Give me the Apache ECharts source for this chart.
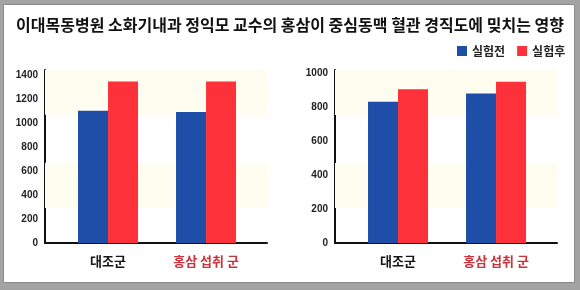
<!DOCTYPE html>
<html><head><meta charset="utf-8">
<script src="https://cdn.jsdelivr.net/npm/echarts@6/dist/echarts.min.js"></script>
<style>html,body{margin:0;padding:0;background:#a3a3a3}#c{width:580px;height:290px}</style>
</head><body><div id="c"></div>
<script>
const titleText = '이대목동병원 소화기내과 정익모 교수의 홍삼이 중심동맥 혈관 경직도에 밎치는 영향';
const categories = ['대조군', '홍삼 섭취 군'];
const seriesNames = ['실험전', '실험후'];
const leftBefore = [1100, 1090];
const leftAfter = [1345, 1345];
const rightBefore = [833, 882];
const rightAfter = [906, 950];
const leftTicks = [0, 200, 400, 600, 800, 1000, 1200, 1400];
const rightTicks = [0, 200, 400, 600, 800, 1000];
const leftBands = [[1067, 1440], [292, 667]];
const rightBands = [[754, 1020], [206, 471]];

const BLUE = '#1f4ea8', RED = '#fd3139';
const FONT = '"Noto Sans CJK KR", sans-serif';
const catIdx = categories.map((c, i) => i);

function xAxis(gi) {
  return {
    gridIndex: gi, type: 'value', min: -0.643, max: 1.622,
    axisLine: { show: true, onZero: false, lineStyle: { color: '#111', width: 2 } },
    axisTick: { show: false }, splitLine: { show: false },
    axisLabel: {
      customValues: catIdx, margin: 12,
      formatter: v => { const i = Math.round(v); return (Math.abs(v - i) < 1e-6 && categories[i] !== undefined) ? '{c' + i + '|' + categories[i] + '}' : ''; },
      rich: {
        c0: { color: '#151515', fontSize: 13, fontWeight: 'bold', fontFamily: FONT },
        c1: { color: '#c9333d', fontSize: 13, fontWeight: 'bold', fontFamily: FONT }
      }
    }
  };
}
function yAxis(gi, max, ticks) {
  return {
    gridIndex: gi, type: 'value', min: 0, max: max, interval: 200,
    axisLine: { show: true, onZero: false, lineStyle: { color: '#111', width: 2 } },
    axisTick: { show: false }, splitLine: { show: false },
    axisLabel: {
      showMaxLabel: false, showMinLabel: true, interval: 0, hideOverlap: false, margin: 7,
      formatter: v => ticks.indexOf(v) >= 0 ? String(v) : '',
      color: '#222', fontSize: 10, fontWeight: 'bold', fontFamily: 'Liberation Sans, Arial, sans-serif'
    }
  };
}
function bands(b) {
  return { silent: true, itemStyle: { color: '#fffdef' }, data: b.map(r => [{ yAxis: r[0] }, { yAxis: r[1] }]) };
}
function bar(gi, name, vals, color, band) {
  const s = {
    type: 'bar', name: name, xAxisIndex: gi, yAxisIndex: gi,
    barWidth: 30, barGap: '0%',
    itemStyle: { color: color },
    data: vals.map((v, i) => [catIdx[i], v])
  };
  if (band) s.markArea = bands(band);
  return s;
}

const chart = echarts.init(document.getElementById('c'), null, { renderer: 'canvas' });
chart.setOption({
  backgroundColor: '#a3a3a3',
  animation: false,
  graphic: [{ type: 'rect', z: -10, shape: { x: 3.5, y: 4.5, width: 571, height: 278 }, style: { fill: '#ffffff', stroke: '#8a8a8a', lineWidth: 1 } }],
  title: { text: titleText, left: 'center', top: 12, textStyle: { fontSize: 16, fontWeight: 'bold', color: '#111', fontFamily: FONT } },
  legend: {
    data: seriesNames, left: 452, top: 40, icon: 'rect', itemWidth: 10, itemHeight: 10, itemGap: 12,
    textStyle: { fontSize: 12, fontWeight: 'bold', color: '#222', fontFamily: FONT }
  },
  grid: [
    { left: 45, top: 70, width: 222, height: 173 },
    { left: 335, top: 70, width: 222, height: 173 }
  ],
  xAxis: [xAxis(0), xAxis(1)],
  yAxis: [yAxis(0, 1440, leftTicks), yAxis(1, 1020, rightTicks)],
  series: [
    bar(0, seriesNames[0], leftBefore, BLUE, leftBands),
    bar(0, seriesNames[1], leftAfter, RED),
    bar(1, seriesNames[0], rightBefore, BLUE, rightBands),
    bar(1, seriesNames[1], rightAfter, RED)
  ]
});
</script></body></html>
